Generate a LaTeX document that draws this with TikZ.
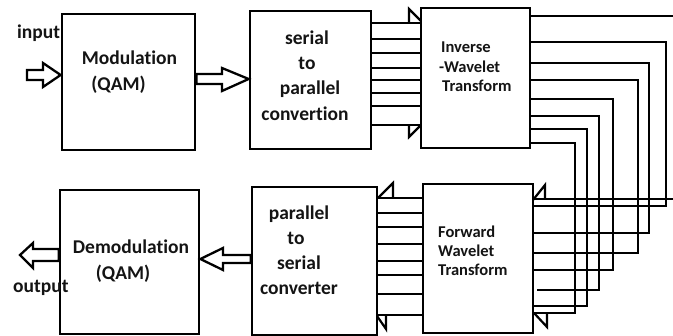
\documentclass[tikz,border=0pt]{standalone}
\usepackage{fontspec}
\setmainfont{Carlito}[Ligatures=NoCommon]
\usetikzlibrary{calc}

\tikzset{
  box/.style={draw, line width=2.7pt, inner sep=0pt, fill=white},
  bus/.style={line width=2.5pt},
  hollow/.style={draw, line width=2.3pt, fill=white, line join=miter},
  barb/.style={line width=2.2pt},
  lbl/.style={inner sep=0pt, text=black!92, font=\fontsize{19.5}{23}\selectfont\bfseries},
  lblsm/.style={inner sep=0pt, text=black!92, font=\fontsize{16.5}{19}\selectfont\bfseries},
}

\begin{document}
\begin{tikzpicture}[x=1pt, y=-1pt]
\useasboundingbox[fill=white] (0,0) rectangle (673,336);

% ---- blocks ----
\node[box, minimum width=133pt, minimum height=136pt] (mod) at (128.5,82)  {};
\node[box, minimum width=121pt, minimum height=138pt] (sp)  at (310.5,80)  {};
\node[box, minimum width=109pt, minimum height=140pt] (iwt) at (475.5,78)  {};
\node[box, minimum width=139pt, minimum height=144pt] (dem) at (129.5,262) {};
\node[box, minimum width=125pt, minimum height=148pt] (ps)  at (314.5,261) {};
\node[box, minimum width=110pt, minimum height=149pt] (fwt) at (478,258.5) {};

% ---- block labels ----
\node[lbl, anchor=base] (t1) at (129.5,65) {Modulation};
\node[lbl, anchor=base] (t2) at (118.5,91) {(QAM)};

\node[lbl, anchor=base] (t3) at (307,45)  {serial};
\node[lbl, anchor=base] (t4) at (307,70)  {to};
\node[lbl, anchor=base] (t5) at (310,95)  {parallel};
\node[lbl, anchor=base] (t6) at (305,121) {convertion};

\node[lblsm, anchor=base west] (t7) at (441,53) {Inverse};
\node[lblsm, anchor=base west] (t8) at (439,73) {-Wavelet};
\node[lblsm, anchor=base west] (t9) at (442,92) {Transform};

\node[lbl, anchor=base] (t10) at (131,254) {Demodulation};
\node[lbl, anchor=base] (t11) at (123,280) {(QAM)};

\node[lbl, anchor=base] (t12) at (299,220) {parallel};
\node[lbl, anchor=base] (t13) at (296,245) {to};
\node[lbl, anchor=base] (t14) at (299,270) {serial};
\node[lbl, anchor=base] (t15) at (299,295) {converter};

\node[lblsm, anchor=base west] (t16) at (438,238) {Forward};
\node[lblsm, anchor=base west] (t17) at (438,257) {Wavelet};
\node[lblsm, anchor=base west] (t18) at (438,276) {Transform};

\node[lbl, anchor=base west] (tin)  at (17,39)  {input};
\node[lbl, anchor=base west] (tout) at (13,293) {output};

% ---- hollow block arrows ----
\coordinate (inp) at (27,75);
\draw[hollow] (inp) ++(0,-5) -- (43,70) -- (43,63) -- (mod.west |- 0,75)
  -- (43,87) -- (43,80) -- (27,80) -- cycle;

\draw[hollow] (mod.east |- 0,74) -- (222,74) -- (222,68) -- (sp.west |- 0,79)
  -- (222,91) -- (222,84) -- (mod.east |- 0,84) -- cycle;

\draw[hollow] (ps.west |- 0,255) -- (223,255) -- (223,248) -- (dem.east |- 0,259)
  -- (223,270) -- (223,263) -- (ps.west |- 0,263) -- cycle;

\coordinate (outp) at (20,255);
\draw[hollow] (dem.west |- 0,249) -- (33,249) -- (33,243) -- (outp)
  -- (33,268) -- (33,261) -- (dem.west |- 0,261) -- cycle;

% ---- parallel buses between converters and transforms ----
\foreach \y in {23,39,53,68,80,93,106,125}
  \draw[bus] (sp.east |- 0,\y) -- (iwt.west |- 0,\y);
\foreach \y in {198,213,227,244,261,275,294,315}
  \draw[bus] (ps.east |- 0,\y) -- (fwt.west |- 0,\y);

% bus end markers
\draw[barb] (409,23) -- (409,9) -- (421,21);
\draw[barb] (409,125) -- (409,137) -- (421,125);
\draw[barb] (378,198) -- (393,183) -- (393,198);
\draw[barb] (377,316) -- (386,329) -- (386,316);
\draw[barb] (533,200) -- (545,185) -- (545,200);
\draw[barb] (534,313) -- (547,327) -- (547,314);

% ---- loop-back channel wiring on the right ----
\coordinate (e1) at (673,16);
\coordinate (e2) at (673,199);
\draw[bus] (iwt.east |- e1) -- (e1);
\draw[bus] (fwt.east |- e2) -- (e2);
\foreach \ya/\xc/\yb in {42/666/206, 63/649/233, 80/638/253, 99/613/270,
                         129/587/306, 143/575/313}
  \draw[bus] (iwt.east |- 0,\ya) -| (\xc,\yb) -- (fwt.east |- 0,\yb);
\draw[bus] (iwt.east |- 0,116) -| (599,290) -- (537,290);
\end{tikzpicture}
\end{document}
